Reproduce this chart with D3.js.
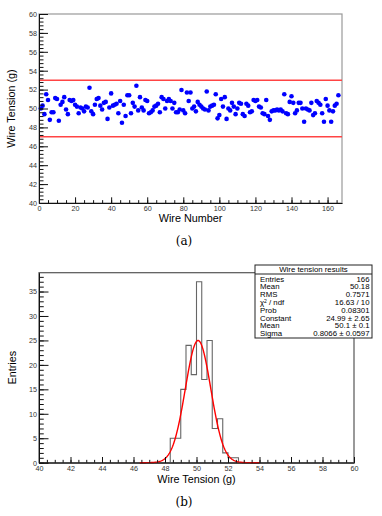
<!DOCTYPE html>
<html>
<head>
<meta charset="utf-8">
<script src="https://cdn.jsdelivr.net/npm/d3@7"></script>
<style>
  body { margin: 0; background: #fff; }
  svg { display: block; font-family: "Liberation Sans", Arial, sans-serif; }
</style>
</head>
<body>
<svg id="chart" width="382" height="516"></svg>
<script>
// wire tension per wire (g), wires 1..166
const tension = [
  50.0, 50.3, 49.4, 51.5, 50.9, 48.8, 49.6, 49.6, 51.1, 51.0,
  48.7, 50.4, 50.7, 51.2, 49.9, 49.4, 50.9, 50.8, 50.9, 50.4,
  50.2, 49.5, 50.1, 50.0, 49.7, 50.2, 50.1, 52.2, 49.7, 49.4,
  50.4, 51.0, 51.1, 50.3, 49.9, 50.6, 50.7, 48.9, 50.1, 51.6,
  50.3, 50.4, 50.5, 49.5, 50.8, 48.5, 50.4, 49.2, 51.4, 51.4,
  49.5, 50.6, 50.2, 52.4, 49.8,
  51.2, 50.1, 49.8, 50.9, 50.8, 49.5, 49.6, 49.8, 50.2, 50.3,
  50.5, 49.6, 51.2, 51.0, 50.0, 50.8, 51.0, 50.8, 50.0, 50.6,
  49.6, 49.6, 49.9, 51.96, 49.8, 49.5, 51.7, 50.8, 51.7, 50.0,
  50.2, 49.7, 50.7, 50.4, 50.2, 50.0, 49.9, 51.8, 49.8, 50.2,
  50.3, 50.4, 51.5, 48.96, 49.3, 51.0, 50.2, 51.2, 48.9, 50.0,
  49.8, 50.6, 50.2, 49.4, 50.0, 50.6,
  50.5, 49.4, 49.2, 50.5, 50.3, 49.6, 49.7, 50.9, 50.8, 50.9,
  50.2, 50.1, 49.5, 49.4, 50.9, 49.2, 48.8, 49.7, 49.8, 49.8,
  49.9, 49.8, 49.9, 49.7, 51.5, 49.5, 49.4, 50.7, 51.3, 50.6,
  49.5, 49.8, 50.6, 50.6, 50.0, 48.6, 50.0, 49.9, 49.8, 50.6,
  49.3, 49.5, 50.8, 50.6, 50.4, 49.5, 48.6, 51.0, 50.3, 49.8,
  48.6, 49.7, 50.3, 50.5, 51.4
];
const limits = [53, 47];

// histogram of tension, bins of 1/3 g
const binLow = [48.333, 48.667, 49.0, 49.333, 49.667, 50.0, 50.333, 50.667, 51.0, 51.333, 51.667, 52.0, 52.333];
const binCount = [5, 5, 15, 24, 18, 37, 17, 25, 7, 9, 2, 1, 1];
const binW = 1 / 3;

// gaussian fit
const fitConst = 24.99, fitMean = 50.1, fitSigma = 0.8066;
const fitRange = [46.4, 54];

const statLabels = ["Entries", "Mean", "RMS", "CHI", "Prob", "Constant", "Mean", "Sigma"];
const statValues = ["166", "50.18", "0.7571", "16.63 / 10", "0.08301", "24.99 \u00b1 2.65", "50.1 \u00b1 0.1", "0.8066 \u00b1 0.0597"];

const svg = d3.select("#chart");

function drawAxes(g, x, y, xMaj, xMin, yMaj, yMin, xTick, yTick) {
  const h = y.range()[0], w = x.range()[0];
  g.append("g").attr("transform", `translate(0,${h})`)
    .call(d3.axisBottom(x).tickValues(xMin).tickSize(-xTick / 2).tickFormat("").tickSizeOuter(0))
    .call(a => a.select(".domain").remove());
  g.append("g").attr("transform", `translate(0,${h})`)
    .call(d3.axisBottom(x).tickValues(xMaj).tickSize(-xTick).tickPadding(3).tickSizeOuter(0));
  g.append("g").attr("transform", `translate(${w},0)`)
    .call(d3.axisLeft(y).tickValues(yMin).tickSize(-yTick / 2).tickFormat("").tickSizeOuter(0))
    .call(a => a.select(".domain").remove());
  g.append("g").attr("transform", `translate(${w},0)`)
    .call(d3.axisLeft(y).tickValues(yMaj).tickSize(-yTick).tickPadding(2).tickSizeOuter(0));
  g.selectAll("text").attr("font-size", 7.2).attr("fill", "#333").attr("font-family", "Liberation Sans, Arial, sans-serif");
  g.selectAll(".domain, .tick line").attr("stroke", "#111").attr("stroke-width", 1);
}

// ---------- (a) tension vs wire number ----------
const xA = d3.scaleLinear().domain([0, 168]).range([39, 342]);
const yA = d3.scaleLinear().domain([40, 60]).range([203, 14]);
const gA = svg.append("g");

gA.append("rect")
  .attr("x", xA(0)).attr("y", yA(60))
  .attr("width", xA(168) - xA(0)).attr("height", yA(40) - yA(60))
  .attr("fill", "none").attr("stroke", "#999").attr("stroke-width", 1.2);

gA.selectAll("line.limit")
  .data(limits)
  .enter().append("line")
  .attr("class", "limit")
  .attr("x1", xA(0)).attr("x2", xA(168))
  .attr("y1", d => yA(d)).attr("y2", d => yA(d))
  .attr("stroke", "#f44").attr("stroke-width", 1.5);

gA.selectAll("circle")
  .data(tension)
  .enter().append("circle")
  .attr("cx", (d, i) => xA(i + 1))
  .attr("cy", d => yA(d))
  .attr("r", 2.3)
  .attr("fill", "#0000ff");

drawAxes(gA.append("g"), xA, yA,
  d3.range(0, 161, 20), d3.range(0, 168, 5),
  d3.range(40, 61, 2), d3.range(40, 60.01, 0.4), 5.7, 9);

gA.append("text")
  .attr("transform", `translate(15,${(yA(40) + yA(60)) / 2}) rotate(-90)`)
  .attr("text-anchor", "middle").attr("font-size", 10.8)
  .text("Wire Tension (g)");
gA.append("text")
  .attr("x", (xA(0) + xA(168)) / 2).attr("y", 222)
  .attr("text-anchor", "middle").attr("font-size", 10.8)
  .text("Wire Number");
gA.append("text")
  .attr("x", 184).attr("y", 245)
  .attr("text-anchor", "middle").attr("font-size", 12)
  .attr("font-family", "DejaVu Serif, Liberation Serif, serif")
  .text("(a)");

// ---------- (b) histogram ----------
const xB = d3.scaleLinear().domain([40, 60]).range([39, 354]);
const yB = d3.scaleLinear().domain([0, 38.85]).range([462.7, 272.7]);
const gB = svg.append("g");

gB.append("rect")
  .attr("x", xB(40)).attr("y", yB(38.85))
  .attr("width", xB(60) - xB(40)).attr("height", yB(0) - yB(38.85))
  .attr("fill", "none").attr("stroke", "#555").attr("stroke-width", 1.2);

const stepPts = [[binLow[0], 0]];
binLow.forEach((lo, i) => {
  stepPts.push([lo, binCount[i]]);
  stepPts.push([lo + binW, binCount[i]]);
});
stepPts.push([binLow[binLow.length - 1] + binW, 0]);

gB.append("path")
  .datum(stepPts)
  .attr("d", d3.line().x(d => xB(d[0])).y(d => yB(d[1])))
  .attr("fill", "none").attr("stroke", "#666").attr("stroke-width", 1.1);

const gauss = v => fitConst * Math.exp(-0.5 * Math.pow((v - fitMean) / fitSigma, 2));
const fitPts = d3.range(fitRange[0], fitRange[1] + 0.001, 0.04).map(v => [v, gauss(v)]);
gB.append("path")
  .datum(fitPts)
  .attr("d", d3.line().x(d => xB(d[0])).y(d => yB(d[1])))
  .attr("fill", "none").attr("stroke", "#f00").attr("stroke-width", 1.4);

drawAxes(gB.append("g"), xB, yB,
  d3.range(40, 61, 2), d3.range(40, 60.01, 0.5),
  d3.range(0, 36, 5), d3.range(0, 39, 1), 5.7, 9.5);

gB.append("text")
  .attr("transform", `translate(16,${(yB(0) + yB(38.85)) / 2}) rotate(-90)`)
  .attr("text-anchor", "middle").attr("font-size", 10.8)
  .text("Entries");
gB.append("text")
  .attr("x", (xB(40) + xB(60)) / 2).attr("y", 483)
  .attr("text-anchor", "middle").attr("font-size", 10.8)
  .text("Wire Tension (g)");
gB.append("text")
  .attr("x", 184).attr("y", 506)
  .attr("text-anchor", "middle").attr("font-size", 12)
  .attr("font-family", "DejaVu Serif, Liberation Serif, serif")
  .text("(b)");

// stats box
const box = { x: 255, y: 265, w: 117, h: 73, head: 9 };
const gS = svg.append("g");
gS.append("rect")
  .attr("x", box.x).attr("y", box.y).attr("width", box.w).attr("height", box.h)
  .attr("fill", "#fff").attr("stroke", "#222").attr("stroke-width", 1);
gS.append("line")
  .attr("x1", box.x).attr("x2", box.x + box.w)
  .attr("y1", box.y + box.head).attr("y2", box.y + box.head)
  .attr("stroke", "#222");
gS.append("text")
  .attr("x", box.x + box.w / 2).attr("y", box.y + 7.2)
  .attr("text-anchor", "middle").attr("font-size", 7.8)
  .text("Wire tension results");

const rowY = d3.scaleLinear().domain([0, 7]).range([279, 333.5]);
const rows = gS.selectAll("g.row")
  .data(statLabels)
  .enter().append("g").attr("class", "row");
rows.append("text")
  .attr("x", box.x + 5).attr("y", (d, i) => rowY(i) + 2.7)
  .attr("font-size", 7.8)
  .each(function (d) {
    if (d === "CHI") {
      const t = d3.select(this);
      t.append("tspan").text("\u03c7");
      t.append("tspan").attr("dy", -2).attr("font-size", 5).text("2");
      t.append("tspan").attr("dy", 2).text(" / ndf");
    } else {
      d3.select(this).text(d);
    }
  });
rows.append("text")
  .attr("x", box.x + box.w - 2.5).attr("y", (d, i) => rowY(i) + 2.7)
  .attr("text-anchor", "end").attr("font-size", 7.8)
  .text((d, i) => statValues[i]);
</script>
</body>
</html>
